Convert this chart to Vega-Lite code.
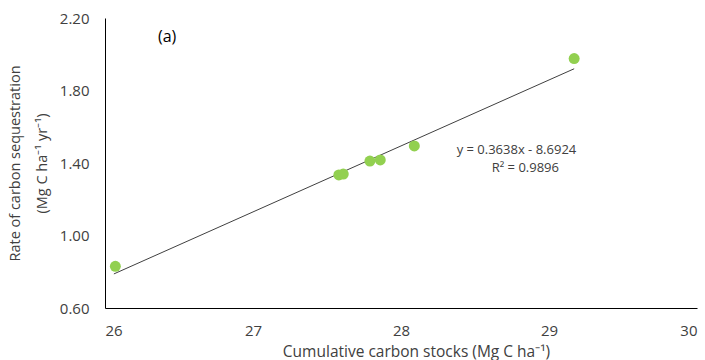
{
  "$schema": "https://vega.github.io/schema/vega-lite/v6.json",
  "width": 592,
  "height": 290,
  "autosize": "none",
  "padding": {"left": 105, "top": 18, "right": 8, "bottom": 52},
  "background": "white",
  "config": {
    "view": {"stroke": null},
    "font": "Open Sans",
    "axis": {"grid": false, "ticks": false, "domainColor": "#000000", "domainWidth": 1, "labelColor": "#404040", "titleColor": "#404040", "labelFont": "Open Sans", "titleFont": "Open Sans", "titleFontWeight": "normal", "labelFontSize": 15, "titleFontSize": 14}
  },
  "datasets": {
    "points": [
      {"stocks": 26.07, "rate": 0.83},
      {"stocks": 27.58, "rate": 1.334},
      {"stocks": 27.61, "rate": 1.339},
      {"stocks": 27.79, "rate": 1.411},
      {"stocks": 27.86, "rate": 1.417},
      {"stocks": 28.09, "rate": 1.494},
      {"stocks": 29.17, "rate": 1.976}
    ],
    "trend": [
      {"stocks": 26.06, "rate": 0.788},
      {"stocks": 29.17, "rate": 1.920}
    ],
    "notes": [
      {"stocks": 26.42, "rate": 2.096, "label": "(a)", "kind": "panel"},
      {"stocks": 28.78, "rate": 1.474, "label": "y = 0.3638x - 8.6924", "kind": "eq"},
      {"stocks": 28.84, "rate": 1.370, "label": "R² = 0.9896", "kind": "eq"}
    ]
  },
  "layer": [
    {
      "data": {"name": "trend"},
      "mark": {"type": "line", "color": "#404040", "strokeWidth": 1},
      "encoding": {
        "x": {"field": "stocks", "type": "quantitative", "scale": {"domain": [26, 30], "nice": false, "zero": false},
          "axis": {"values": [26, 27, 28, 29, 30], "format": "d", "labelPadding": 15, "title": "Cumulative carbon stocks (Mg C ha⁻¹)", "titleFontSize": 15.5, "titlePadding": 6, "titleX": 311}},
        "y": {"field": "rate", "type": "quantitative", "scale": {"domain": [0.6, 2.2], "nice": false, "zero": false},
          "axis": {"values": [0.6, 1.0, 1.4, 1.8, 2.2], "format": ".2f", "labelPadding": 16, "title": ["Rate of carbon sequestration", "(Mg C ha⁻¹ yr⁻¹)"], "titleFontSize": 14.5, "titleLineHeight": 27, "titlePadding": 10}}
      }
    },
    {
      "data": {"name": "points"},
      "mark": {"type": "point", "filled": true, "color": "#92D050", "opacity": 1, "size": 120},
      "encoding": {
        "x": {"field": "stocks", "type": "quantitative"},
        "y": {"field": "rate", "type": "quantitative"}
      }
    },
    {
      "data": {"name": "notes"},
      "transform": [{"filter": "datum.kind == 'eq'"}],
      "mark": {"type": "text", "fontSize": 13, "color": "#404040", "font": "Open Sans", "align": "center", "baseline": "middle"},
      "encoding": {
        "x": {"field": "stocks", "type": "quantitative"},
        "y": {"field": "rate", "type": "quantitative"},
        "text": {"field": "label"}
      }
    },
    {
      "data": {"name": "notes"},
      "transform": [{"filter": "datum.kind == 'panel'"}],
      "mark": {"type": "text", "fontSize": 16, "color": "#000000", "font": "Open Sans", "align": "center", "baseline": "middle"},
      "encoding": {
        "x": {"field": "stocks", "type": "quantitative"},
        "y": {"field": "rate", "type": "quantitative"},
        "text": {"field": "label"}
      }
    }
  ]
}
